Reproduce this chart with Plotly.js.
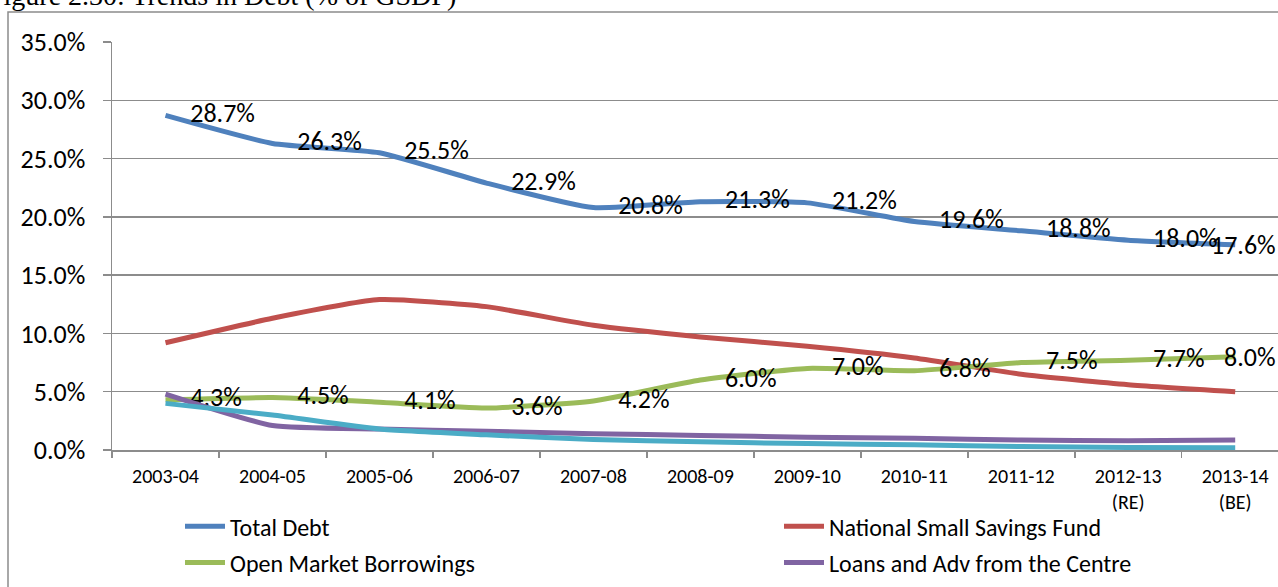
<!DOCTYPE html>
<html>
<head>
<meta charset="utf-8">
<script src="https://cdn.plot.ly/plotly-3.0.1.min.js"></script>
<style>
html,body{margin:0;padding:0;background:#fff;overflow:hidden;}
#chart{width:1278px;height:587px;}
</style>
</head>
<body>
<div id="chart"></div>
<script>
const years = ["2003-04","2004-05","2005-06","2006-07","2007-08","2008-09","2009-10","2010-11","2011-12","2012-13<br>(RE)","2013-14<br>(BE)"];
const totalDebt = [28.7,26.3,25.5,22.9,20.8,21.3,21.2,19.6,18.8,18.0,17.6];
const nssf = [9.2,11.3,12.9,12.3,10.7,9.7,8.9,7.9,6.5,5.6,5.0];
const omb = [4.3,4.5,4.1,3.6,4.2,6.0,7.0,6.8,7.5,7.7,8.0];
const loans = [4.8,2.1,1.8,1.6,1.4,1.25,1.1,1.0,0.85,0.8,0.85];
const others = [4.0,3.0,1.8,1.3,0.9,0.7,0.55,0.45,0.3,0.22,0.2];
const names = ["Total Debt","National Small Savings Fund","Open Market Borrowings","Loans and Adv from the Centre","Others"];
const colors = ["#4F81BD","#C0504D","#9BBB59","#8064A2","#4BACC6"];

const fontFam = "Carlito, Lato, 'Open Sans', sans-serif";
const labelSize = 26;
function fmt(v){return v.toFixed(1)+"%";}
function lineTrace(y, i, labels, legendName){
  const last = y.length - 1;
  return {
    x: years, y: y.map(v=>v/100), name: names[i],
    type: "scatter",
    mode: labels ? "lines+markers+text" : "lines",
    line: {color: colors[i], width: 5, shape: "spline", smoothing: 0.5},
    marker: {size: 38, color: "rgba(0,0,0,0)", line: {width: 0}},
    text: labels ? y.map((v,k)=> k===last ? "" : fmt(v)) : undefined,
    textposition: "middle right",
    textfont: {family: fontFam, size: labelSize, color: "#000"},
    cliponaxis: false,
    legendgroup: names[i],
    legend: legendName,
    showlegend: !!legendName,
    hoverinfo: "x+y+name"
  };
}
const data = [
  lineTrace(totalDebt, 0, true, "legend"),
  lineTrace(nssf, 1, false, "legend2"),
  lineTrace(omb, 2, true, "legend"),
  lineTrace(loans, 3, false, "legend2"),
  lineTrace(others, 4, false, null)
];

const legendBase = {
  orientation: "v", y: -0.133, xanchor: "left", yanchor: "top",
  font: {family: fontFam, size: 24, color: "#000"},
  bgcolor: "rgba(0,0,0,0)", tracegroupgap: 2, itemwidth: 40
};

const layout = {
  width: 1278, height: 587,
  margin: {l: 112, r: 0, t: 42, b: 137},
  paper_bgcolor: "#fff", plot_bgcolor: "#fff",
  font: {family: fontFam, color: "#000"},
  xaxis: {
    type: "category", range: [-0.5, 10.4],
    showgrid: false, showline: true, linecolor: "#8c8c8c", linewidth: 1.5,
    ticks: "outside", tickson: "boundaries", ticklen: 6, tickcolor: "#8c8c8c", tickwidth: 1.5,
    ticklabelstandoff: 7,
    tickfont: {family: fontFam, size: 20, color: "#000"},
    fixedrange: true
  },
  yaxis: {
    range: [0, 0.35], dtick: 0.05, tickformat: ".1%",
    showgrid: true, gridcolor: "#8c8c8c", gridwidth: 1.5,
    showline: true, linecolor: "#8c8c8c", linewidth: 1.5,
    ticks: "outside", ticklen: 8, tickcolor: "#8c8c8c", tickwidth: 1.5,
    ticklabelstandoff: 12,
    tickfont: {family: fontFam, size: 26, color: "#000"},
    zeroline: false, fixedrange: true
  },
  legend: Object.assign({}, legendBase, {x: (180-112)/1166}),
  legend2: Object.assign({}, legendBase, {x: (779-112)/1166}),
  shapes: [{
    type: "rect", xref: "paper", yref: "paper",
    x0: (8-112)/1166, x1: 1.02, y0: -0.5, y1: (450-12)/408,
    line: {color: "#8c8c8c", width: 1.5}, fillcolor: "rgba(0,0,0,0)", layer: "below"
  }],
  annotations: [
    {
      text: "Figure 2.30: Trends in Debt (% of GSDP)",
      xref: "paper", yref: "paper", x: (-14-112)/1166, y: (450-13)/408,
      xanchor: "left", yanchor: "bottom", showarrow: false,
      font: {family: "'Liberation Serif', serif", size: 28, color: "#000"}
    },
    {
      text: fmt(totalDebt[totalDebt.length-1]),
      xref: "paper", yref: "y", x: 1, y: totalDebt[totalDebt.length-1]/100,
      xanchor: "right", yanchor: "middle", showarrow: false,
      font: {family: fontFam, size: labelSize, color: "#000"}
    },
    {
      text: fmt(omb[omb.length-1]),
      xref: "paper", yref: "y", x: 1, y: omb[omb.length-1]/100,
      xanchor: "right", yanchor: "middle", showarrow: false,
      font: {family: fontFam, size: labelSize, color: "#000"}
    }
  ]
};
Plotly.newPlot("chart", data, layout, {displayModeBar: false, staticPlot: true});
</script>
</body>
</html>
